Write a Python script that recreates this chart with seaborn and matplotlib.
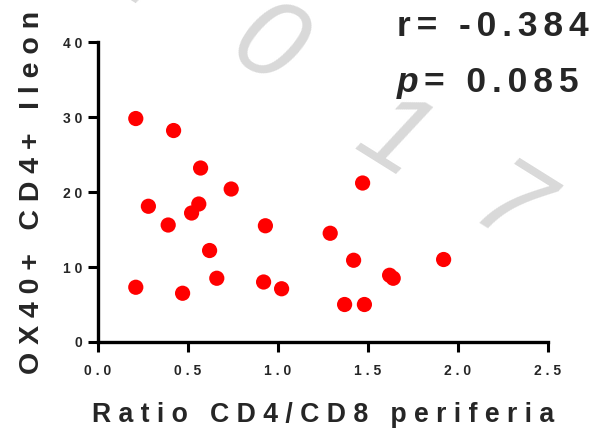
import numpy as np
import pandas as pd
import seaborn as sns
import matplotlib.pyplot as plt

# values
ratio_cd4_cd8 = [0.21, 0.42, 0.57, 0.74, 0.28, 0.56, 0.52, 0.39, 0.93, 0.62, 0.21,
                 0.47, 0.66, 0.92, 1.02, 1.47, 1.29, 1.42, 1.92, 1.62, 1.64, 1.37, 1.48]
ox40_ileon = [29.8, 28.2, 23.2, 20.4, 18.1, 18.4, 17.2, 15.6, 15.5, 12.2, 7.3,
              6.5, 8.5, 8.0, 7.1, 21.2, 14.5, 10.9, 11.0, 8.9, 8.5, 5.0, 5.0]
xticks = [0.0, 0.5, 1.0, 1.5, 2.0, 2.5]
yticks = [0, 10, 20, 30, 40]
r_value = "-0.384"
p_value = "0.085"
watermark = "2017"

df = pd.DataFrame({"ratio": ratio_cd4_cd8, "ox40": ox40_ileon})


def spaced(s, sep=" "):
    return sep.join(s)


sns.set_style("ticks")
plt.rcParams["font.family"] = ["Liberation Sans", "DejaVu Sans"]
plt.rcParams["font.weight"] = "bold"

fig = plt.figure(figsize=(5.96, 4.29), dpi=100)
ax = fig.add_axes([0.1644, 0.2028, 0.7551, 0.6992])
ax.patch.set_alpha(0)

# faint watermark behind everything, one glyph at a time along a diagonal
wm_pos = [(0.225, 1.075), (0.446, 0.888), (0.659, 0.674), (0.852, 0.506)]
for ch, (wx, wy) in zip(watermark, wm_pos):
    fig.text(wx, wy, ch, rotation=-32, fontsize=80, color="#d9d9d9",
             style="italic", fontweight="normal", ha="center", va="center", zorder=-1)

sns.scatterplot(data=df, x="ratio", y="ox40", color="#ff0000", s=120,
                edgecolor="none", ax=ax, zorder=3, clip_on=False)

ax.set_xlim(0, 2.5)
ax.set_ylim(0, 40)
ax.set_xticks(xticks)
ax.set_yticks(yticks)
ax.set_xticklabels([spaced(f"{t:.1f}") for t in xticks], fontsize=10, fontweight="bold")
ax.set_yticklabels([spaced(str(t)) for t in yticks], fontsize=10, fontweight="bold")
ax.tick_params(width=2.2, length=7, direction="out", color="black")
ax.tick_params(axis="x", pad=9)
ax.tick_params(axis="y", pad=4)
for side in ["top", "right"]:
    ax.spines[side].set_visible(False)
for side in ["left", "bottom"]:
    ax.spines[side].set_linewidth(2.4)
    ax.spines[side].set_color("black")

ax.set_xlabel(spaced("Ratio CD4/CD8 periferia"), fontsize=19.2, fontweight="bold", labelpad=17)
ax.set_ylabel(spaced("OX40+ CD4+ Ileon"), fontsize=20.5, fontweight="bold", labelpad=13)

fig.text(0.666, 0.916, spaced("r= " + r_value, "\u2006"), fontsize=25.5, fontweight="bold",
         ha="left", va="baseline")
p_txt = fig.text(0.666, 0.786, "p", fontsize=25.5, fontweight="bold", style="italic",
                 ha="left", va="baseline")
ax.annotate(spaced("= " + p_value, "\u2006"), xy=(1, 0), xycoords=p_txt,
            xytext=(4, 0), textcoords="offset points",
            fontsize=25.5, fontweight="bold", ha="left", va="bottom")

fig.savefig("out.png", dpi=100)
